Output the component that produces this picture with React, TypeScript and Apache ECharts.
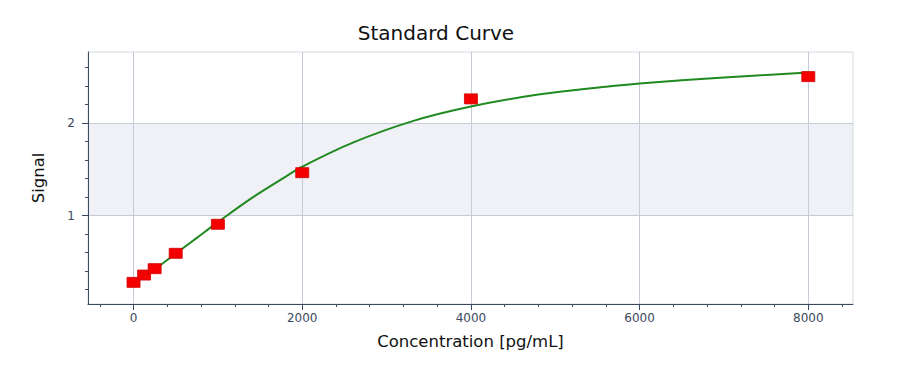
import React, { useEffect, useRef } from "react";
import * as echarts from "echarts";

const stdConc = [0, 125, 250, 500, 1000, 2000, 4000, 8000];
const stdSignal = [0.279, 0.358, 0.427, 0.593, 0.907, 1.465, 2.263, 2.504];

const curveConc = [0, 125, 250, 500, 750, 1000, 1400, 1800, 2000, 2600, 3300, 4000, 4800, 5600, 6000, 7000, 8000];
const curveSignal = [0.29, 0.35, 0.42, 0.59, 0.76, 0.93, 1.19, 1.42, 1.53, 1.79, 2.02, 2.18, 2.31, 2.395, 2.43, 2.495, 2.548];

const xMajor = [0, 2000, 4000, 6000, 8000];
const xMinor = [-400, 400, 800, 1200, 1600, 2400, 2800, 3200, 3600, 4400, 4800, 5200, 5600, 6400, 6800, 7200, 7600, 8400];
const yMajor = [1, 2];
const yMinor = [0.2, 0.4, 0.6, 0.8, 1.2, 1.4, 1.6, 1.8, 2.2, 2.4, 2.6];
const bandRange = [1, 2];

const X_MIN = -540;
const X_MAX = 8530;
const Y_MIN = 0.045;
const Y_MAX = 2.77;

export default function App() {
  const ref = useRef<HTMLDivElement>(null);
  useEffect(() => {
    document.body.style.margin = "0";
    const chart = echarts.init(ref.current!, null, { renderer: "svg" });
    const font = "'DejaVu Sans', 'Open Sans', sans-serif";
    const axisColor = "#3b4a5e";
    const labelColor = "#3b4a60";
    const gridLine = "#c5ccd8";
    chart.setOption({
      animation: false,
      backgroundColor: "#ffffff",
      title: {
        text: "Standard Curve",
        left: 431,
        top: 18,
        textAlign: "center",
        textStyle: { fontFamily: font, fontSize: 20, fontWeight: "normal", color: "#111111" },
      },
      grid: {
        left: 88,
        right: 47,
        top: 52,
        bottom: 67,
        show: true,
        borderColor: "#d3d8e0",
        borderWidth: 1,
        backgroundColor: "transparent",
      },
      xAxis: [
        {
          type: "value",
          min: X_MIN,
          max: X_MAX,
          name: "Concentration [pg/mL]",
          nameLocation: "middle",
          nameGap: 29,
          nameTextStyle: { fontFamily: font, fontSize: 16.5, color: "#111111" },
          axisLine: { show: true, onZero: false, lineStyle: { color: axisColor, width: 1 } },
          axisTick: { show: true, customValues: xMajor, length: 6, lineStyle: { color: axisColor } },
          axisLabel: {
            customValues: xMajor,
            formatter: (v: number) => String(v),
            fontFamily: font,
            fontSize: 12,
            color: labelColor,
            margin: 8,
          },
          splitLine: { show: true, lineStyle: { color: gridLine, width: 1 } },
          z: 1,
        },
        {
          type: "value",
          min: X_MIN,
          max: X_MAX,
          position: "bottom",
          axisLine: { show: false, onZero: false },
          axisTick: { show: true, customValues: xMinor, length: 3, lineStyle: { color: axisColor } },
          axisLabel: { show: false },
          splitLine: { show: false },
          z: 1,
        },
      ],
      yAxis: [
        {
          type: "value",
          min: Y_MIN,
          max: Y_MAX,
          name: "Signal",
          nameLocation: "middle",
          nameGap: 41,
          nameTextStyle: { fontFamily: font, fontSize: 16.5, color: "#111111" },
          axisLine: { show: true, onZero: false, lineStyle: { color: axisColor, width: 1 } },
          axisTick: { show: true, customValues: yMajor, length: 6, lineStyle: { color: axisColor } },
          axisLabel: {
            customValues: yMajor,
            formatter: (v: number) => String(v),
            fontFamily: font,
            fontSize: 12,
            color: labelColor,
            margin: 13,
          },
          splitLine: { show: true, lineStyle: { color: gridLine, width: 1 } },
          z: 1,
        },
        {
          type: "value",
          min: Y_MIN,
          max: Y_MAX,
          position: "left",
          axisLine: { show: false, onZero: false },
          axisTick: { show: true, customValues: yMinor, length: 3, lineStyle: { color: axisColor } },
          axisLabel: { show: false },
          splitLine: { show: false },
          z: 1,
        },
      ],
      series: [
        {
          type: "line",
          name: "Band",
          data: [],
          z: -1,
          silent: true,
          markArea: {
            silent: true,
            z: -1,
            itemStyle: { color: "#eff1f6" },
            data: [[{ yAxis: bandRange[0] }, { yAxis: bandRange[1] }]],
          },
        },
        {
          type: "line",
          name: "Fit",
          data: curveConc.map((c, i) => [c, curveSignal[i]]),
          smooth: 0.35,
          showSymbol: false,
          symbol: "none",
          lineStyle: { color: "#1f8a1f", width: 2 },
          z: 3,
        },
        {
          type: "scatter",
          name: "Standards",
          data: stdConc.map((c, i) => [c, stdSignal[i]]),
          symbol: "rect",
          symbolSize: [13, 10],
          itemStyle: { color: "#f50000", borderColor: "#d00000", borderWidth: 0.8, opacity: 1 },
          z: 5,
        },
      ],
    });
    return () => chart.dispose();
  }, []);
  return <div ref={ref} style={{ width: 900, height: 371 }} />;
}
